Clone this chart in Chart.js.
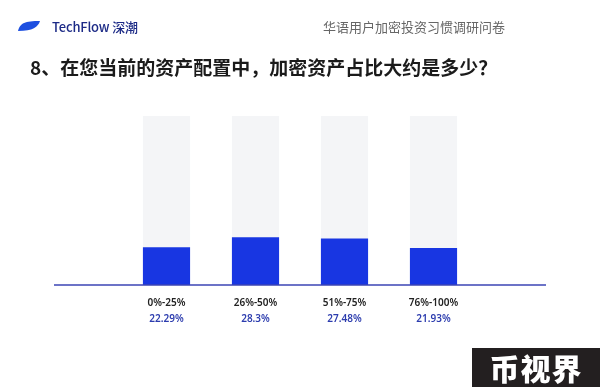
<!DOCTYPE html>
<html>
<head>
<meta charset="utf-8">
<script src="https://cdn.jsdelivr.net/npm/chart.js@4"></script>
<style>
  html, body { margin: 0; padding: 0; background: #fff; }
  body { width: 600px; height: 387px; position: relative; overflow: hidden;
         font-family: "Noto Sans CJK SC", "Noto Sans", sans-serif; }
  #wrap { position: absolute; left: 0; top: 0; width: 600px; height: 387px; }
  .logo { position: absolute; left: 18px; top: 16px; height: 20px; display: flex; align-items: center; }
  .logo span { margin-left: 12px; font-size: 13px; font-weight: 500; color: #1c2a86; letter-spacing: -0.2px; }
  .sub { position: absolute; right: 95px; top: 17px; font-size: 13px; color: #666; line-height: 20px; }
  .title { position: absolute; left: 30px; top: 53px; font-size: 19px; font-weight: 700; color: #1b1b1b; line-height: 28px; }
  .badge { position: absolute; left: 472px; top: 348px; width: 128px; height: 39px; background: #231f20;
           color: #fff; font-size: 30px; font-weight: 900; text-align: center; line-height: 39px; letter-spacing: 1px; }
</style>
</head>
<body>
<div id="wrap"><canvas id="chart" width="600" height="387"></canvas></div>
<div class="logo">
  <svg width="22" height="10" viewBox="0 0 22 10"><path d="M0 10 C2 2 7 0 22 0 C20 6 15 10 0 10 Z" fill="#1d4fe0"/></svg>
  <span>TechFlow 深潮</span>
</div>
<div class="sub">华语用户加密投资习惯调研问卷</div>
<div class="title">8、在您当前的资产配置中，加密资产占比大约是多少？</div>
<div class="badge">币视界</div>
<script>
const categories = ["0%-25%", "26%-50%", "51%-75%", "76%-100%"];
const shares = [22.29, 28.3, 27.48, 21.93];
const shareLabels = ["22.29%", "28.3%", "27.48%", "21.93%"];
const fullBar = [100, 100, 100, 100];

// baseline across the chart and the blue percentage row under the categories
const extras = {
    id: 'extras',
    afterDatasetsDraw(chart) {
        const ctx = chart.ctx;
        const x = chart.scales.x;
        const y = chart.scales.y;
        const base = y.getPixelForValue(0);
        ctx.save();
        ctx.strokeStyle = '#3b45b4';
        ctx.lineWidth = 1.5;
        ctx.beginPath();
        ctx.moveTo(chart.chartArea.left - 68, base);
        ctx.lineTo(chart.chartArea.right + 68, base);
        ctx.stroke();
        ctx.fillStyle = '#2c3cae';
        ctx.font = '600 10px "Noto Sans", sans-serif';
        ctx.textAlign = 'center';
        ctx.textBaseline = 'middle';
        shareLabels.forEach((t, i) => {
            ctx.fillText(t, x.getPixelForValue(i), base + 34);
        });
        ctx.restore();
    }
};

const config = {
    type: 'bar',
    data: {
        labels: categories,
        datasets: [
            {
                label: '占比',
                data: shares,
                backgroundColor: '#1836e2',
                grouped: false,
                order: 1,
                barPercentage: 0.53,
                categoryPercentage: 1
            },
            {
                label: '背景',
                data: fullBar,
                backgroundColor: '#f4f5f7',
                grouped: false,
                order: 2,
                barPercentage: 0.53,
                categoryPercentage: 1
            }
        ]
    },
    plugins: [extras],
    options: {
        responsive: false,
        animation: false,
        layout: {
            padding: { left: 122, right: 122, top: 116, bottom: 66 }
        },
        plugins: {
            legend: { display: false },
            tooltip: { enabled: false }
        },
        scales: {
            x: {
                grid: { display: false, drawTicks: false },
                border: { display: false },
                ticks: {
                    padding: 12,
                    color: '#222',
                    font: { size: 10, weight: '600', family: '"Noto Sans", sans-serif' }
                }
            },
            y: {
                display: false,
                min: 0,
                max: 100
            }
        }
    }
};

const barChart = new Chart(document.getElementById('chart'), config);
</script>
</body>
</html>
